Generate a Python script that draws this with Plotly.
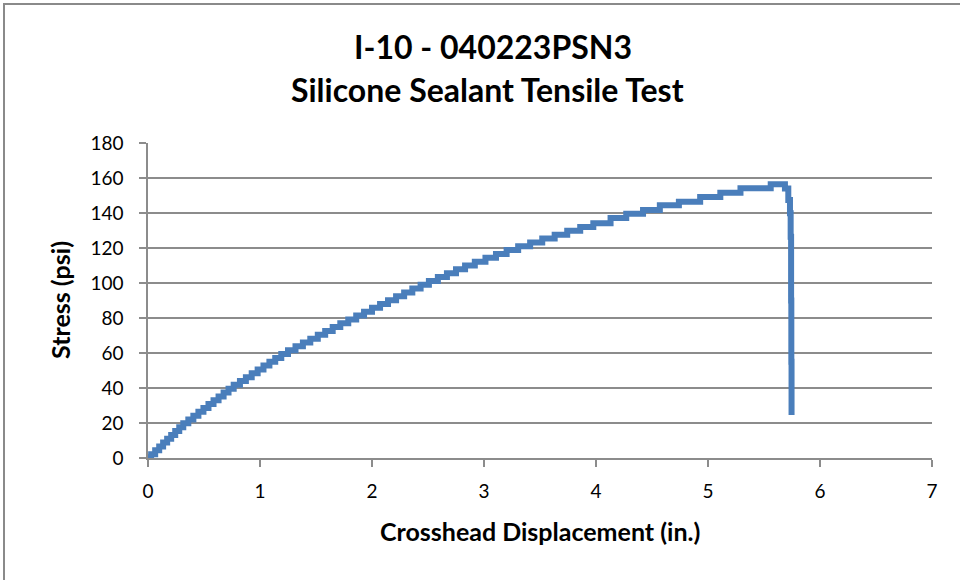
import plotly.graph_objects as go

# Crosshead displacement (in.) where each quantised stress level begins
displacement = [
    0.000, 0.028, 0.064, 0.100, 0.135, 0.171, 0.207, 0.243, 0.279, 0.315,
    0.360, 0.405, 0.450, 0.495, 0.540, 0.585, 0.630, 0.675, 0.719, 0.765,
    0.821, 0.874, 0.926, 0.979, 1.031, 1.084, 1.136, 1.190, 1.250, 1.317,
    1.383, 1.449, 1.516, 1.582, 1.649, 1.717, 1.788, 1.859, 1.929, 2.000,
    2.072, 2.143, 2.215, 2.287, 2.360, 2.434, 2.508, 2.588, 2.669, 2.750,
    2.831, 2.918, 3.013, 3.107, 3.202, 3.305, 3.412, 3.520, 3.631, 3.743,
    3.859, 3.976, 4.130, 4.270, 4.420, 4.570, 4.740, 4.930, 5.110, 5.290,
    5.560, 5.640, 5.687, 5.717, 5.732, 5.738, 5.742, 5.744, 5.746,
]
# Stress (psi) at each of those displacements
stress = [
    0.5, 2.2, 4.4, 6.6, 8.8, 11.0, 13.2, 15.4, 17.6, 19.8,
    22.0, 24.2, 26.4, 28.6, 30.8, 33.0, 35.2, 37.4, 39.6, 41.8,
    44.0, 46.2, 48.4, 50.6, 52.8, 55.0, 57.2, 59.4, 61.6, 63.8,
    66.0, 68.2, 70.4, 72.6, 74.8, 77.0, 79.2, 81.4, 83.6, 85.8,
    88.0, 90.2, 92.4, 94.6, 96.8, 99.0, 101.2, 103.4, 105.6, 107.8,
    110.0, 112.2, 114.4, 116.6, 118.8, 121.0, 123.2, 125.4, 127.6, 129.8,
    132.0, 134.2, 137.2, 139.6, 141.7, 144.4, 146.5, 149.2, 151.6, 154.2,
    156.5, 156.5, 154.0, 147.4, 139.8, 126.5, 90.0, 55.0, 24.6,
]

x_ticks = [0, 1, 2, 3, 4, 5, 6, 7]
y_ticks = [0, 20, 40, 60, 80, 100, 120, 140, 160, 180]

title_line1 = "I-10 - 040223PSN3"
title_line2 = "Silicone Sealant Tensile Test"
x_title = "Crosshead Displacement (in.)"
y_title = "Stress (psi)"

FONT = "Lato"
GRID = "#8c8c8c"
W, H = 960, 580
ML, MR, MT, MB = 148, 28, 143, 122
PW, PH = W - ML - MR, H - MT - MB


def px_x(px):
    return (px - ML) / PW


def px_y(py):
    return (H - MB - py) / PH


fig = go.Figure()
fig.add_trace(go.Scatter(
    x=displacement, y=stress, mode="lines",
    line=dict(color="#4A7EBB", width=6, shape="hv"),
    showlegend=False, hoverinfo="x+y",
))

fig.update_layout(
    width=W, height=H,
    margin=dict(l=ML, r=MR, t=MT, b=MB, pad=0),
    paper_bgcolor="white", plot_bgcolor="white",
    font=dict(family=FONT, color="black", size=19),
    xaxis=dict(
        range=[0, 7], tickvals=x_ticks, ticktext=[str(v) for v in x_ticks],
        showgrid=False, zeroline=False,
        showline=True, linecolor=GRID, linewidth=1.5,
        ticks="outside", ticklen=7, tickcolor=GRID, tickwidth=1.5,
        ticklabelstandoff=8, tickfont=dict(size=19),
    ),
    yaxis=dict(
        range=[0, 180], tickvals=y_ticks, ticktext=[str(v) for v in y_ticks],
        showgrid=True, gridcolor=GRID, gridwidth=1.5, zeroline=False,
        showline=True, linecolor=GRID, linewidth=1.5,
        ticks="outside", ticklen=7, tickcolor=GRID, tickwidth=1.5,
        ticklabelstandoff=12, tickfont=dict(size=19),
    ),
    shapes=[
        dict(type="rect", xref="paper", yref="paper",
             x0=px_x(4), x1=px_x(970), y0=px_y(590), y1=px_y(4),
             line=dict(color="#8a8a8a", width=2), fillcolor="rgba(0,0,0,0)",
             layer="below"),
    ],
    annotations=[
        dict(text=f"<b>{title_line1}</b>", x=px_x(493), y=px_y(47),
             xref="paper", yref="paper", showarrow=False,
             xanchor="center", yanchor="middle", font=dict(size=32)),
        dict(text=f"<b>{title_line2}</b>", x=px_x(487), y=px_y(90),
             xref="paper", yref="paper", showarrow=False,
             xanchor="center", yanchor="middle", font=dict(size=32)),
        dict(text=f"<b>{x_title}</b>", x=0.5, y=px_y(531),
             xref="paper", yref="paper", showarrow=False,
             xanchor="center", yanchor="middle", font=dict(size=25)),
        dict(text=f"<b>{y_title}</b>", x=px_x(60), y=px_y(300),
             xref="paper", yref="paper", showarrow=False, textangle=-90,
             xanchor="center", yanchor="middle", font=dict(size=25)),
    ],
)

fig.write_html("out.html")
